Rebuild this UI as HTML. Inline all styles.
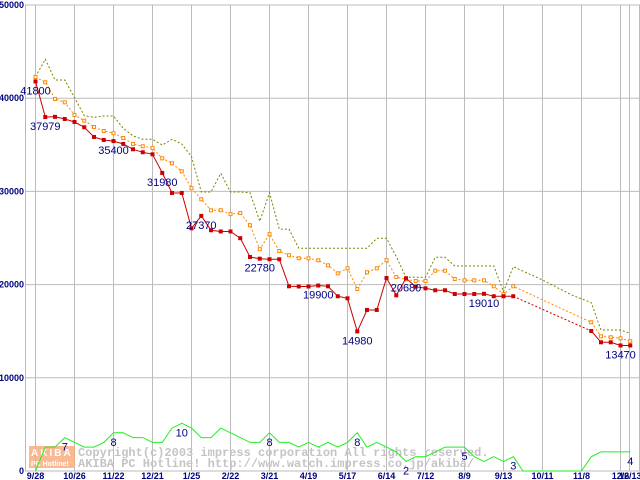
<!DOCTYPE html>
<html><head><meta charset="utf-8"><style>
html,body{margin:0;padding:0;background:#fff;}
svg{display:block;}
.yl{font:bold 9px "Liberation Sans",sans-serif;fill:#000080;}
.xl{font:bold 9px "Liberation Sans",sans-serif;fill:#000080;}
.vl{font:11px "Liberation Sans",sans-serif;fill:#000080;}
.wm{font:bold 12px "Liberation Mono",monospace;fill:#c4c4c4;}
</style></head><body>
<svg id="chart" width="640" height="480" viewBox="0 0 640 480" xmlns="http://www.w3.org/2000/svg">
<g id="grid"></g>
<g id="wmark">
  <rect x="29" y="446" width="46" height="22" fill="#f6a878" opacity="0.8"/>
  <text x="31" y="456" style="font:bold 10px 'Liberation Sans',sans-serif;fill:#fff;letter-spacing:2px">AKIBA</text>
  <text x="31" y="466" style="font:bold 7px 'Liberation Sans',sans-serif;fill:#fff">PC Hotline!</text>
  <text class="wm" x="78" y="456">Copyright(c)2003 impress corporation All rights reserved.</text>
  <text class="wm" x="78" y="467">AKIBA PC Hotline!  http://www.watch.impress.co.jp/akiba/</text>
</g>
<g id="series"></g>
<g id="labels"></g>
</svg>
<script>
const yTicks=[0,10000,20000,30000,40000,50000];
const xTickLabels=["9/28","10/26","11/22","12/21","1/25","2/22","3/21","4/19","5/17","6/14","7/12","8/9","9/13","10/11","11/8","12/6","12/13"];
const xTickWeeks=[0,4,8,12,16,20,24,28,32,36,40,44,48,52,56,60,61];
const minWeeks=[0,1,2,3,4,5,6,7,8,9,10,11,12,13,14,15,16,17,18,19,20,21,22,23,24,25,26,27,28,29,30,31,32,33,34,35,36,37,38,39,40,41,42,43,44,45,46,47,48,49,57,58,59,60,61];
const minPrice=[41800,37979,38000,37770,37450,36880,35840,35520,35400,35090,34520,34200,33980,31980,29830,29830,26040,27370,25830,25700,25700,24980,22960,22780,22720,22720,19820,19800,19800,19900,19820,18750,18530,14980,17280,17280,20710,18850,20680,19780,19600,19390,19390,18990,18990,18990,19010,18750,18750,18750,15020,13810,13810,13470,13470];
const avgPrice=[42280,41710,39920,39560,38200,37590,36910,36480,36240,35730,35090,34840,34660,33550,33020,32160,30340,29160,27970,27980,27560,27680,26370,23800,25410,23610,23150,22830,22820,22610,22070,21210,21750,19530,21320,21750,22620,20820,20570,20390,20390,21490,21490,20600,20460,20460,20460,19820,18990,19820,15960,14450,14350,14240,13920];
const maxWeeks=[0,1,2,3,4,5,6,7,8,9,10,11,12,13,14,15,16,17,18,19,20,21,22,23,24,25,26,27,28,29,30,31,32,33,34,35,36,37,38,39,40,41,42,43,44,45,46,47,48,49,52,55,57,58,59,60,61];
const maxPrice=[42310,44180,41950,41950,40060,38120,37950,38090,38090,36770,35950,35590,35590,34980,35590,35090,33730,29940,29940,31940,29940,29940,29860,26800,29860,25950,25950,23900,23900,23900,23900,23900,23900,23900,23900,24970,24970,22990,20780,20780,20780,22930,22930,22000,22000,22000,22000,22000,19240,21920,20490,18880,18060,15130,15130,15130,14780];
const countWeeks=[0,1,2,3,4,5,6,7,8,9,10,11,12,13,14,15,16,17,18,19,20,21,22,23,24,25,26,27,28,29,30,31,32,33,34,35,36,37,38,39,40,41,42,43,44,45,46,47,48,49,50,51,52,53,54,55,56,57,58,59,60,61];
const shopCount=[0,5,5,7,6,5,5,6,8,8,7,7,6,6,9,10,9,7,7,9,8,7,6,6,8,6,6,5,6,5,6,5,6,8,5,6,5,4,2,3,3,4,5,5,5,3,2,3,2,3,0,0,0,0,0,0,0,3,4,4,4,4];
const priceLabelIdx=[0,1,8,13,17,23,29,33,38,46,53];
const countLabelIdx=[3,8,15,24,33,38,44,49,61];

const NS="http://www.w3.org/2000/svg";
const X=w=>35.5+w*9.75;
const Y=v=>471-v*466/50000;
const YC=c=>471-c*4.77;
function mk(tag,attrs,parent){const e=document.createElementNS(NS,tag);for(const k in attrs)e.setAttribute(k,attrs[k]);parent.appendChild(e);return e;}
const grid=document.getElementById('grid'),ser=document.getElementById('series'),lab=document.getElementById('labels');

yTicks.forEach(v=>{
  const l=mk('line',{x1:25,x2:640,y1:Y(v),y2:Y(v),stroke:'#bbb','stroke-width':1},grid);
  
  
  const t=mk('text',{x:24,y:Y(v)+3,'text-anchor':'end',class:'yl'},grid);
  t.textContent=String(v);
  
  
});
const ax=mk('line',{x1:25.5,x2:25.5,y1:5,y2:471,stroke:'#bbb'},grid);


xTickWeeks.forEach((w,i)=>{
  const l=mk('line',{x1:Math.round(X(w))-0.5,x2:Math.round(X(w))-0.5,y1:5,y2:471,stroke:'#bbb'},grid);
  
  
  const t=mk('text',{x:X(w),y:479,'text-anchor':'middle',class:'xl'},grid);
  t.textContent=xTickLabels[i];
  
  
});
const rl=mk('line',{x1:639.5,x2:639.5,y1:5,y2:471,stroke:'#bbb'},grid);



function pathFor(weeks,vals,fy,from,to){let d='';for(let i=from;i<=to;i++){d+=(i===from?'M':'L')+X(weeks[i]).toFixed(1)+' '+fy(vals[i]).toFixed(1);}return d;}

// count series
const cp=mk('path',{d:pathFor(countWeeks,shopCount,YC,0,shopCount.length-1),fill:'none',stroke:'#22ee22','stroke-width':1},ser);



// max series
const mp=mk('path',{d:pathFor(maxWeeks,maxPrice,Y,0,maxPrice.length-1),fill:'none',stroke:'#808000','stroke-width':1,'stroke-dasharray':'2 2'},ser);



// avg series
const ap=mk('path',{d:pathFor(minWeeks,avgPrice,Y,0,avgPrice.length-1),fill:'none',stroke:'#ff8800','stroke-width':1,'stroke-dasharray':'2 2'},ser);


avgPrice.forEach((v,i)=>{
  const r=mk('rect',{x:X(minWeeks[i])-1.5,y:Y(v)-1.5,width:3,height:3,fill:'#fff',stroke:'#ff8800','stroke-width':1},ser);
  
  
});

// min series: solid except gap
let gap=minWeeks.findIndex((w,i)=>i>0&&w-minWeeks[i-1]>1);
const rp1=mk('path',{d:pathFor(minWeeks,minPrice,Y,0,gap-1),fill:'none',stroke:'#cc0000','stroke-width':1},ser);


const rp2=mk('path',{d:pathFor(minWeeks,minPrice,Y,gap-1,gap),fill:'none',stroke:'#cc0000','stroke-width':1,'stroke-dasharray':'2 2'},ser);


const rp3=mk('path',{d:pathFor(minWeeks,minPrice,Y,gap,minPrice.length-1),fill:'none',stroke:'#cc0000','stroke-width':1},ser);


minPrice.forEach((v,i)=>{
  const r=mk('rect',{x:X(minWeeks[i])-2,y:Y(v)-2,width:4,height:4,fill:'#cc0000'},ser);
  
  
});

priceLabelIdx.forEach(i=>{
  const t=mk('text',{x:X(minWeeks[i]),y:Y(minPrice[i])+13,'text-anchor':'middle',class:'vl'},lab);
  t.textContent=String(minPrice[i]);
  
  
});
countLabelIdx.forEach(i=>{
  const t=mk('text',{x:X(countWeeks[i]),y:YC(shopCount[i])+13,'text-anchor':'middle',class:'vl'},lab);
  t.textContent=String(shopCount[i]);
  
  
});
</script>
</body></html>
